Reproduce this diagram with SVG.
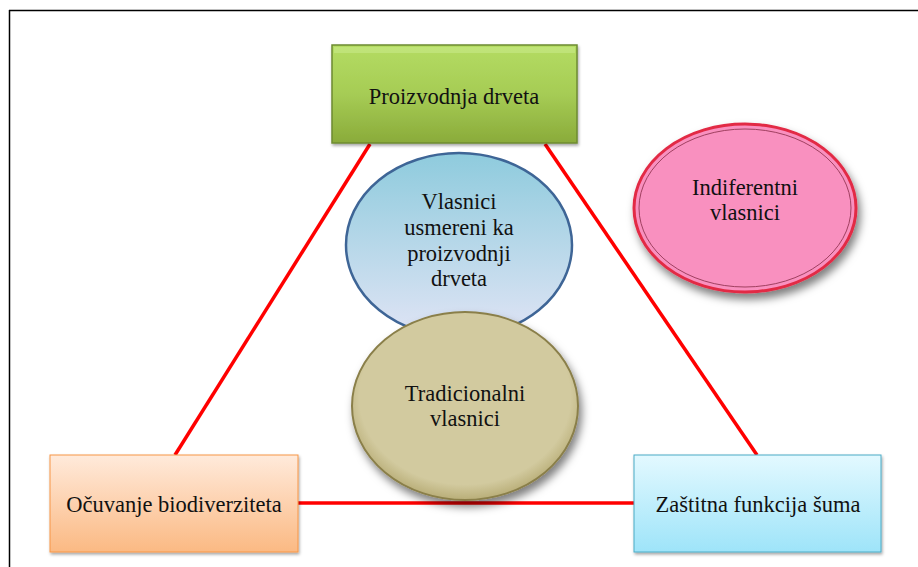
<svg xmlns="http://www.w3.org/2000/svg" width="918" height="567" viewBox="0 0 918 567">
<style>
text{font-family:'Liberation Serif','Times New Roman',Times,serif;font-size:22.5px;fill:#111;text-anchor:middle}
.conn{stroke:#ff0000;stroke-width:3.5;fill:none}
</style>
<defs>
<filter id="sh" x="-20%" y="-20%" width="150%" height="150%">
<feDropShadow dx="3" dy="6" stdDeviation="4" flood-color="#000" flood-opacity="0.5"/>
</filter>
<filter id="shs" x="-20%" y="-20%" width="150%" height="150%">
<feDropShadow dx="1" dy="2" stdDeviation="1.5" flood-color="#000" flood-opacity="0.35"/>
</filter>
<linearGradient id="gGreen" x1="0" y1="0" x2="0" y2="1">
<stop offset="0" stop-color="#b4dc62"/><stop offset="0.5" stop-color="#a6cc55"/><stop offset="1" stop-color="#8aab3a"/>
</linearGradient>
<linearGradient id="gOrange" x1="0" y1="0" x2="0" y2="1">
<stop offset="0" stop-color="#ffeadb"/><stop offset="1" stop-color="#fbb983"/>
</linearGradient>
<linearGradient id="gCyan" x1="0" y1="0" x2="0" y2="1">
<stop offset="0" stop-color="#e3f9ff"/><stop offset="1" stop-color="#9ee4f9"/>
</linearGradient>
<linearGradient id="gBlue" x1="0" y1="0" x2="0" y2="1">
<stop offset="0" stop-color="#8ecbdd"/><stop offset="1" stop-color="#e0e4f5"/>
</linearGradient>
<radialGradient id="gTan" cx="0.5" cy="0.45" r="0.55">
<stop offset="0.85" stop-color="#d2ca9f"/><stop offset="1" stop-color="#b9ae78"/>
</radialGradient>
</defs>
<g id="frame">
<line x1="9" y1="10.5" x2="918" y2="10.5" stroke="#000" stroke-width="1.5"/>
<line x1="9.5" y1="10" x2="9.5" y2="567" stroke="#000" stroke-width="1.5"/>
</g>
<g id="connectors">
<line class="conn" x1="370" y1="144" x2="175" y2="455"/>
<line class="conn" x1="545" y1="144" x2="757" y2="455"/>
<line class="conn" x1="298" y1="503" x2="634" y2="503"/>
</g>
<g id="node-proizvodnja">
<rect x="332" y="45" width="245" height="98" fill="url(#gGreen)" stroke="#6d8b30" stroke-width="1.5" filter="url(#shs)"/>
<rect x="334" y="47" width="241" height="6" fill="#c8ea88" opacity="0.6"/>
<text x="454" y="104">Proizvodnja drveta</text>
</g>
<g id="node-ocuvanje">
<rect x="50" y="455" width="248" height="97" fill="url(#gOrange)" stroke="#f79646" stroke-width="1" filter="url(#shs)"/>
<text x="174" y="512">Očuvanje biodiverziteta</text>
</g>
<g id="node-zastitna">
<rect x="634" y="455" width="247" height="97" fill="url(#gCyan)" stroke="#4bacc6" stroke-width="1" filter="url(#shs)"/>
<text x="758" y="512">Zaštitna funkcija šuma</text>
</g>
<g id="node-indiferentni">
<ellipse cx="745" cy="208" rx="111" ry="84" fill="#f990bf" stroke="#e22a45" stroke-width="3" filter="url(#sh)"/>
<ellipse cx="745" cy="208" rx="106" ry="79" fill="none" stroke="#a04060" stroke-width="1"/>
<text x="745" y="195">Indiferentni</text>
<text x="745" y="220">vlasnici</text>
</g>
<g id="node-vlasnici-usmereni">
<ellipse cx="459" cy="245" rx="113" ry="92" fill="url(#gBlue)" stroke="#3e6596" stroke-width="2.5"/>
<text x="459" y="209">Vlasnici</text>
<text x="459" y="235">usmereni ka</text>
<text x="459" y="261">proizvodnji</text>
<text x="459" y="286">drveta</text>
</g>
<g id="node-tradicionalni">
<ellipse cx="465" cy="406" rx="113" ry="94" fill="url(#gTan)" stroke="#8a7f4a" stroke-width="2" filter="url(#sh)"/>
<text x="465" y="401">Tradicionalni</text>
<text x="465" y="426">vlasnici</text>
</g>
</svg>
